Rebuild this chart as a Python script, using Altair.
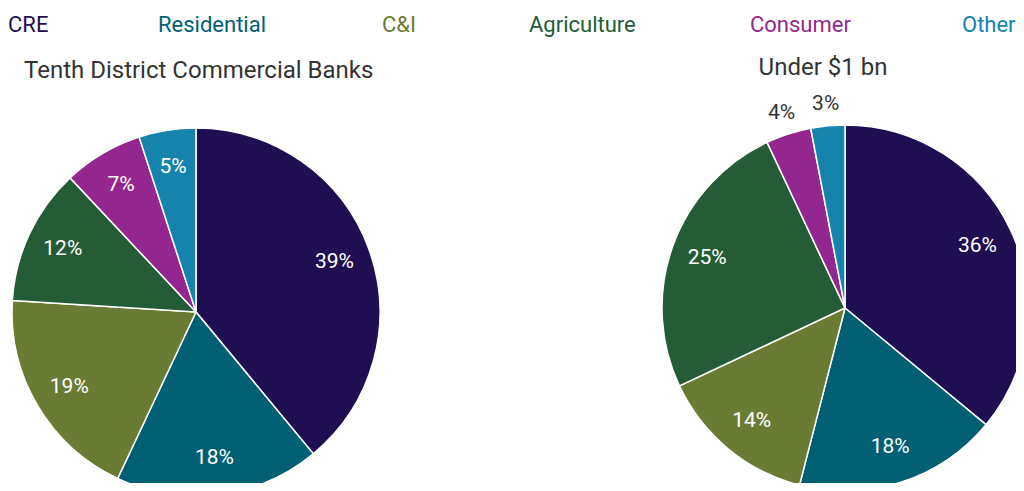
import altair as alt
import pandas as pd

categories = ["CRE", "Residential", "C&I", "Agriculture", "Consumer", "Other"]
colors = ["#1f0f52", "#005f73", "#6a7b34", "#235c36", "#93278f", "#1584ad"]
left_values = [39, 18, 19, 12, 7, 5]
right_values = [36, 18, 14, 25, 4, 3]
left_title = "Tenth District Commercial Banks"
right_title = "Under $1 bn"

FONT = "Roboto"

def make_df(vals):
    return pd.DataFrame({
        "category": categories,
        "value": vals,
        "idx": list(range(len(categories))),
        "label": [f"{v}%" for v in vals],
    })

color_scale = alt.Scale(domain=categories, range=colors)

def pie(vals, cx, cy, r):
    df = make_df(vals)
    base = alt.Chart(df).encode(
        theta=alt.Theta("value:Q", stack=True),
        order=alt.Order("idx:Q"),
    )
    arcs = base.mark_arc(radius=r, stroke="white", strokeWidth=1.5).encode(
        x=alt.value(cx), y=alt.value(cy),
        color=alt.Color("category:N", scale=color_scale, legend=None),
    )
    inner = base.mark_text(radius=r * 0.8, font=FONT, fontSize=21, color="white").encode(
        x=alt.value(cx), y=alt.value(cy),
        text=alt.condition(alt.datum.value >= 5, alt.Text("label:N"), alt.value("")),
    )
    outer = base.mark_text(radius=r + 22, font=FONT, fontSize=21, color="#333333").encode(
        x=alt.value(cx), y=alt.value(cy),
        text=alt.condition(alt.datum.value < 5, alt.Text("label:N"), alt.value("")),
    )
    return [arcs, inner, outer]

layers = []
layers += pie(left_values, 188, 304, 184)
layers += pie(right_values, 837, 300, 183)

legend_x = [0, 150, 374, 521, 742, 954]
for cat, col, lx in zip(categories, colors, legend_x):
    layers.append(
        alt.Chart(pd.DataFrame({"t": [cat]})).mark_text(
            font=FONT, fontSize=22, color=col, align="left", baseline="alphabetic"
        ).encode(text="t:N", x=alt.value(lx), y=alt.value(24))
    )

layers.append(
    alt.Chart(pd.DataFrame({"t": [left_title]})).mark_text(
        font=FONT, fontSize=24, color="#333333", align="left", baseline="alphabetic"
    ).encode(text="t:N", x=alt.value(16), y=alt.value(70))
)
layers.append(
    alt.Chart(pd.DataFrame({"t": [right_title]})).mark_text(
        font=FONT, fontSize=24, color="#333333", align="center", baseline="alphabetic"
    ).encode(text="t:N", x=alt.value(815), y=alt.value(67))
)

chart = alt.layer(*layers).properties(
    width=1008, height=475, autosize=alt.AutoSizeParams(type="none"), padding=0
).configure_view(stroke=None).resolve_scale(theta="independent")

chart.save("out.html", embed_options={"renderer": "svg", "actions": False})
